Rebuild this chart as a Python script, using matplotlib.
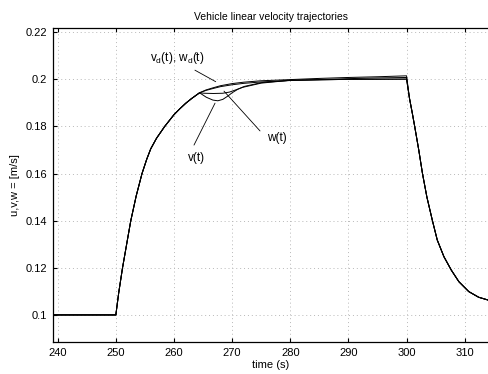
import numpy as np
import matplotlib
matplotlib.use("Agg")
import matplotlib.pyplot as plt

plt.rcParams['font.family'] = ['Liberation Sans', 'DejaVu Sans']

# common part: before the step and the first rise
t_rise = [239.0, 250.0, 250.5, 251.15, 252.0, 252.57, 253.5, 254.5, 255.3, 256.0,
          257.0, 258.4, 260.0, 261.0, 262.0, 263.0, 264.4]
u_rise = [0.1, 0.1, 0.1095, 0.120, 0.132, 0.140, 0.1505, 0.160, 0.166, 0.1705,
          0.175, 0.180, 0.185, 0.1875, 0.1898, 0.1918, 0.1943]

# desired trajectories
t_des = [265.5, 266.7, 268.0, 270.0, 272.0, 275.0, 280.0, 285.0, 290.0, 295.0, 300.0]
vd = [0.1955, 0.1964, 0.1973, 0.1982, 0.1988, 0.1994, 0.1999, 0.2004, 0.2008, 0.2011, 0.2015]
wd = [0.1953, 0.1961, 0.1969, 0.1977, 0.1983, 0.1989, 0.1995, 0.1999, 0.2003, 0.2006, 0.2008]

# actual trajectories
t_v = [265.56, 266.69, 267.55, 268.4, 269.26, 270.0, 270.98, 272.1, 275.0, 280.0, 290.0, 300.0]
v = [0.1924, 0.1912, 0.1909, 0.1915, 0.1929, 0.1943, 0.1958, 0.1970, 0.1986, 0.1996, 0.2000, 0.2001]
t_w = [265.2, 266.8, 268.4, 269.55, 270.7, 271.8, 275.0, 280.0, 290.0, 300.0]
w = [0.1941, 0.1940, 0.1941, 0.1946, 0.1956, 0.1966, 0.1984, 0.1996, 0.2000, 0.2001]

# common decay after the reference drops at t=300
t_fall = [300.5, 301.0, 301.4, 302.1, 302.74, 303.5, 304.45, 305.28, 306.43, 307.7,
          309.0, 310.7, 312.4, 313.9, 314.5]
u_fall = [0.192, 0.1855, 0.180, 0.170, 0.160, 0.150, 0.140, 0.1318, 0.1247, 0.119,
          0.1141, 0.1099, 0.1075, 0.1064, 0.1060]

fig = plt.figure(figsize=(4.89, 3.74), dpi=100)
ax = fig.add_axes([52.7 / 489, 1 - 342 / 374, (489 - 52.7) / 489, (342 - 28) / 374])

for tm, um in [(t_des, vd), (t_des, wd), (t_v, v), (t_w, w)]:
    tt = np.concatenate([t_rise, tm, t_fall])
    uu = np.concatenate([u_rise, um, u_fall])
    ax.plot(tt, uu, color='black', lw=0.7)

ax.set_xlim(239.14, 314.18)
ax.set_ylim(0.0885, 0.2218)
ax.set_xticks(np.arange(240, 311, 10))
ax.set_yticks([0.1, 0.12, 0.14, 0.16, 0.18, 0.2, 0.22])
ax.set_yticklabels(['0.1', '0.12', '0.14', '0.16', '0.18', '0.2', '0.22'])
ax.tick_params(direction='in', length=3, labelsize=8, top=True, right=False, pad=4)
ax.grid(True, linestyle=(0, (1, 3)), color='#b8b8b8', lw=0.7)
ax.spines['right'].set_visible(False)
for s in ['left', 'bottom', 'top']:
    ax.spines[s].set_linewidth(0.9)

ax.set_title('Vehicle linear velocity trajectories', fontsize=7.5, pad=6)
ax.set_xlabel('time (s)', fontsize=8, labelpad=2)
ax.set_ylabel('u,v,w = [m/s]', fontsize=8, labelpad=4)

arrow = dict(arrowstyle='-', color='black', lw=0.6, shrinkA=0, shrinkB=0)
ax.annotate('v$_\\mathregular{d}$(t), w$_\\mathregular{d}$(t)', xy=(267.18, 0.1990),
            xytext=(260.5, 0.2090), fontsize=8.5, ha='center', va='center')
ax.annotate('', xy=(267.18, 0.1990), xytext=(263.6, 0.2039), arrowprops=arrow)
ax.annotate('v(t)', xy=(267.06, 0.1899), xytext=(263.8, 0.1666),
            fontsize=8.5, ha='center', va='center')
ax.annotate('', xy=(267.06, 0.1899), xytext=(263.44, 0.1721), arrowprops=arrow)
ax.annotate('w(t)', xy=(268.6, 0.1950), xytext=(277.7, 0.1751),
            fontsize=8.5, ha='center', va='center')
ax.annotate('', xy=(268.6, 0.1950), xytext=(274.8, 0.1781), arrowprops=arrow)

fig.savefig('out.png', dpi=100)
